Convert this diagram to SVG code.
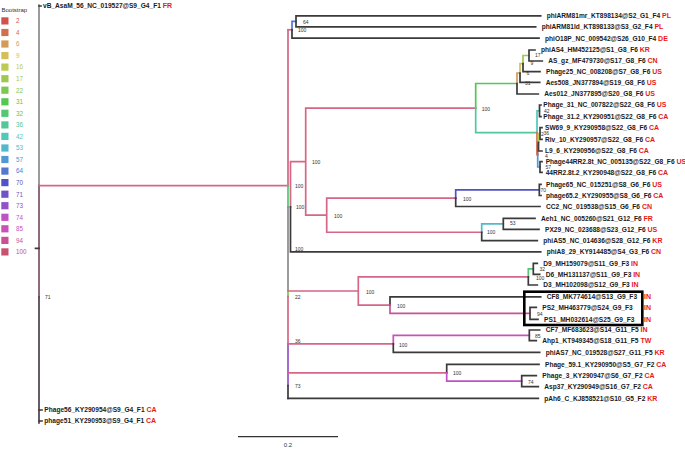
<svg xmlns="http://www.w3.org/2000/svg" width="685" height="449" viewBox="0 0 685 449">
<style>
text{font-family:"Liberation Sans",Arial,sans-serif}
.lf{font-size:6.6px;font-weight:bold;fill:#1a1a1a}
.cc{font-size:7px;font-weight:bold;fill:#e81818}
.bs{font-size:5px;fill:#333}
.lg{font-size:6.3px}
.br{fill:none;stroke-width:1.7;stroke-linecap:square}
.d{stroke:#3a3a3a}.gy{stroke:#8a8a8a}
.c2{stroke:#d4504f}.c4{stroke:#d0704c}.c6{stroke:#d49a58}.c9{stroke:#d4c058}.c16{stroke:#bccb52}.c17{stroke:#9fc852}
.c22{stroke:#7cc852}.c31{stroke:#52c852}.c32{stroke:#52c872}.c36{stroke:#52c89a}.c42{stroke:#52c8ba}.c53{stroke:#52b8cc}
.c57{stroke:#5298d2}.c64{stroke:#5278d2}.c70{stroke:#5252c8}.c71{stroke:#7252c8}.c73{stroke:#9452c8}.c74{stroke:#c052c8}
.c85{stroke:#c852b8}.c94{stroke:#c85294}.c100{stroke:#d66686}
</style>
<g id="legend">
<text x="1.5" y="12" style="font-size:6px;fill:#333">Bootstrap</text>
<g class="lg">
<rect x="1.3" y="17.3" width="7.2" height="7.2" fill="#d4504f"/><text x="16" y="23.2" fill="#d4504f">2</text>
<rect x="1.3" y="28.9" width="7.2" height="7.2" fill="#d0704c"/><text x="16" y="34.8" fill="#d0704c">4</text>
<rect x="1.3" y="40.4" width="7.2" height="7.2" fill="#d49a58"/><text x="16" y="46.3" fill="#d49a58">6</text>
<rect x="1.3" y="52.0" width="7.2" height="7.2" fill="#d4c058"/><text x="16" y="57.9" fill="#d4c058">9</text>
<rect x="1.3" y="63.5" width="7.2" height="7.2" fill="#bccb52"/><text x="16" y="69.4" fill="#bccb52">16</text>
<rect x="1.3" y="75.1" width="7.2" height="7.2" fill="#9fc852"/><text x="16" y="81.0" fill="#9fc852">17</text>
<rect x="1.3" y="86.6" width="7.2" height="7.2" fill="#7cc852"/><text x="16" y="92.5" fill="#7cc852">22</text>
<rect x="1.3" y="98.2" width="7.2" height="7.2" fill="#52c852"/><text x="16" y="104.1" fill="#52c852">31</text>
<rect x="1.3" y="109.7" width="7.2" height="7.2" fill="#52c872"/><text x="16" y="115.6" fill="#52c872">32</text>
<rect x="1.3" y="121.3" width="7.2" height="7.2" fill="#52c89a"/><text x="16" y="127.2" fill="#52c89a">36</text>
<rect x="1.3" y="132.8" width="7.2" height="7.2" fill="#52c8ba"/><text x="16" y="138.7" fill="#52c8ba">42</text>
<rect x="1.3" y="144.4" width="7.2" height="7.2" fill="#52b8cc"/><text x="16" y="150.3" fill="#52b8cc">53</text>
<rect x="1.3" y="155.9" width="7.2" height="7.2" fill="#5298d2"/><text x="16" y="161.8" fill="#5298d2">57</text>
<rect x="1.3" y="167.5" width="7.2" height="7.2" fill="#5278d2"/><text x="16" y="173.4" fill="#5278d2">64</text>
<rect x="1.3" y="179.0" width="7.2" height="7.2" fill="#5252c8"/><text x="16" y="184.9" fill="#5252c8">70</text>
<rect x="1.3" y="190.6" width="7.2" height="7.2" fill="#7252c8"/><text x="16" y="196.5" fill="#7252c8">71</text>
<rect x="1.3" y="202.1" width="7.2" height="7.2" fill="#9452c8"/><text x="16" y="208.0" fill="#9452c8">73</text>
<rect x="1.3" y="213.7" width="7.2" height="7.2" fill="#c052c8"/><text x="16" y="219.6" fill="#c052c8">74</text>
<rect x="1.3" y="225.2" width="7.2" height="7.2" fill="#c852b8"/><text x="16" y="231.1" fill="#c852b8">85</text>
<rect x="1.3" y="236.8" width="7.2" height="7.2" fill="#c85294"/><text x="16" y="242.7" fill="#c85294">94</text>
<rect x="1.3" y="248.3" width="7.2" height="7.2" fill="#c85272"/><text x="16" y="254.2" fill="#c85272">100</text>
</g>
</g>
<g id="connectors" class="br">
<path class="gy" d="M39,5 V185.7"/>
<path style="stroke:#7a5065" d="M39,185.7 V297"/>
<path style="stroke:#48404a" d="M39,297 V423"/>
<path class="d" d="M35.5,248.3 H39 M39,6 H41 M39,410 H42 M39,421 H42"/>
<path class="c100" d="M39,185.7 H288"/>
<path class="c100" d="M288,29.75 V185.7"/>
<path class="c32" d="M288,185.7 V207"/>
<path class="gy" d="M288,207 V291"/>
<path class="c22" d="M288,291 V296.7"/>
<path class="c100" d="M288,296.7 V344"/>
<path class="c73" d="M288,344 V385.7"/>
<path class="d" d="M288,385.7 V398.3"/>
<path class="c100" d="M288,29.75 H292"/>
<path class="c64" d="M292,21.3 V29.75 M292,21.3 H296"/>
<path class="d" d="M292,29.75 V38.2 M296,15.8 V26.8 M296,15.8 H540.7 M296,26.8 H535.7 M292,38.2 H539"/>
<path class="c100" d="M290.5,161.65 V206.9 M290.5,161.65 H305.7 M305.7,108.1 V215.2 M305.7,108.1 H475.7 M305.7,215.2 H326.7 M326.7,198.2 V232.25 M326.7,198.2 H455.7 M326.7,232.25 H481.7"/>
<path class="d" d="M290.5,206.9 V251.9 M290.5,251.9 H540.7"/>
<path class="c31" d="M475.7,83.5 V108.1 M475.7,83.5 H517"/>
<path class="c36" d="M475.7,108.1 V132.7 M475.7,132.7 H537"/>
<path class="c6" d="M517,73 V83.5 M517,73 H520"/>
<path class="d" d="M517,83.5 V94 M517,94 H538.3"/>
<path class="c9" d="M520,63.6 V73 M520,63.6 H523"/>
<path class="d" d="M520,73 V82.3 M520,82.3 H539.7"/>
<path class="c17" d="M523,55.5 V63.6 M523,55.5 H529"/>
<path class="d" d="M523,63.6 V71.7 M523,71.7 H540 M529,50 V61 M529,50 H535 M529,61 H542.3"/>
<path class="c42" d="M537,110.85 V132.7 M537,110.85 H539.5"/>
<path class="c4" d="M537,132.7 V154.6 M537,154.6 H537.7"/>
<path class="d" d="M539.5,105 V116.7 M539.5,105 H541 M539.5,116.7 H541"/>
<path class="c2" d="M537.7,142.25 V154.6 M537.7,142.25 H538.5"/>
<path class="c57" d="M537.7,154.6 V167 M537.7,167 H540"/>
<path class="c16" d="M538.5,133.5 V142.25 M538.5,133.5 H540"/>
<path class="d" d="M538.5,142.25 V151 M538.5,151 H542 M540,127.7 V139.3 M540,127.7 H542 M540,139.3 H542 M540,161.7 V172.3 M540,161.7 H542 M540,172.3 H542"/>
<path class="c70" d="M455.7,189.9 V198.2 M455.7,189.9 H539.3"/>
<path class="d" d="M455.7,198.2 V206.5 M455.7,206.5 H540 M539.3,184.3 V195.5 M539.3,184.3 H541 M539.3,195.5 H541"/>
<path class="c53" d="M481.7,223.8 V232.25 M481.7,223.8 H503.3"/>
<path class="d" d="M481.7,232.25 V240.7 M481.7,240.7 H537.3 M503.3,218.3 V229.3 M503.3,218.3 H535 M503.3,229.3 H539"/>
<path class="c100" d="M288,291 H358.3 M358.3,276.9 V305.1 M358.3,276.9 H528.3 M358.3,305.1 H390"/>
<path class="c32" d="M528.3,268.8 V276.9 M528.3,268.8 H533.3"/>
<path class="d" d="M528.3,276.9 V285 M528.3,285 H537.3 M533.3,263.3 V274.3 M533.3,263.3 H537.3 M533.3,274.3 H539.7"/>
<path class="d" d="M390,296.9 V305.1 M390,296.9 H540.7"/>
<path class="c94" d="M390,305.1 V313.3 M390,313.3 H530"/>
<path class="d" d="M530,307.3 V319.3 M530,307.3 H536.3 M530,319.3 H538"/>
<path class="c100" d="M288,343.9 H393.3"/>
<path class="c85" d="M393.3,335.35 V343.9 M393.3,335.35 H529.3"/>
<path class="d" d="M393.3,343.9 V352.4 M393.3,352.4 H539.7 M529.3,330 V340.7 M529.3,330 H539.7 M529.3,340.7 H536.3"/>
<path class="c100" d="M288,372.8 H446.7"/>
<path class="d" d="M446.7,364.4 V372.8 M446.7,364.4 H539"/>
<path class="c74" d="M446.7,372.8 V381.2 M446.7,381.2 H521.7"/>
<path class="d" d="M521.7,375.7 V386.7 M521.7,375.7 H536.3 M521.7,386.7 H538.3 M288,398.3 H538.3"/>
</g>
<g id="bootstrap-values" class="bs">
<text x="303" y="23.5">64</text>
<text x="298" y="31.8">100</text>
<text x="535" y="57.3">17</text>
<text x="530.5" y="65.3">9</text>
<text x="526.5" y="74.8">6</text>
<text x="525" y="85.3">31</text>
<text x="481.7" y="110.8">100</text>
<text x="544" y="112.6">42</text>
<text x="543.5" y="135.1">36</text>
<text x="541" y="135.6">2</text>
<text x="545" y="158.3">4</text>
<text x="545.5" y="168.8">57</text>
<text x="312" y="163.8">100</text>
<text x="295" y="187.5">100</text>
<text x="540.5" y="191.8">70</text>
<text x="463" y="200.8">100</text>
<text x="296" y="208.8">100</text>
<text x="334" y="217.5">100</text>
<text x="510" y="225.3">53</text>
<text x="487" y="234.3">100</text>
<text x="295" y="251.1">100</text>
<text x="539.5" y="270.8">32</text>
<text x="536" y="280">100</text>
<text x="366" y="293.5">100</text>
<text x="295" y="298.5">22</text>
<text x="397" y="307.5">100</text>
<text x="537" y="315.8">94</text>
<text x="535" y="337.8">85</text>
<text x="295" y="342.8">36</text>
<text x="399" y="346.8">100</text>
<text x="453" y="375.1">100</text>
<text x="528" y="383.5">74</text>
<text x="295" y="387.5">73</text>
<text x="45" y="299">71</text>
</g>
<g id="leaf-vB_AsaM_56"><text class="lf" x="43" y="8.4">vB_AsaM_56_NC_019527@S9_G4_F1 <tspan class="cc">FR</tspan></text></g>
<g id="leaf-Phage56"><text class="lf" x="44.3" y="412.4">Phage56_KY290954@S9_G4_F1 <tspan class="cc">CA</tspan></text></g>
<g id="leaf-phage51"><text class="lf" x="44.3" y="423.4">phage51_KY290953@S9_G4_F1 <tspan class="cc">CA</tspan></text></g>
<g id="leaf-phiARM81mr"><text class="lf" x="546.7" y="18.2">phiARM81mr_KT898134@S2_G1_F4 <tspan class="cc">PL</tspan></text></g>
<g id="leaf-phiARM81ld"><text class="lf" x="541.7" y="29.2">phiARM81ld_KT898133@S3_G2_F4 <tspan class="cc">PL</tspan></text></g>
<g id="leaf-phiO18P"><text class="lf" x="545" y="40.6">phiO18P_NC_009542@S26_G10_F4 <tspan class="cc">DE</tspan></text></g>
<g id="leaf-phiAS4"><text class="lf" x="541" y="52.4">phiAS4_HM452125@S1_G8_F6 <tspan class="cc">KR</tspan></text></g>
<g id="leaf-AS_gz"><text class="lf" x="548.3" y="63.4">AS_gz_MF479730@S17_G8_F6 <tspan class="cc">CN</tspan></text></g>
<g id="leaf-Phage25"><text class="lf" x="546" y="74.1">Phage25_NC_008208@S7_G8_F6 <tspan class="cc">US</tspan></text></g>
<g id="leaf-Aes508"><text class="lf" x="545.7" y="84.7">Aes508_JN377894@S19_G8_F6 <tspan class="cc">US</tspan></text></g>
<g id="leaf-Aes012"><text class="lf" x="544.3" y="96.4">Aes012_JN377895@S20_G8_F6 <tspan class="cc">US</tspan></text></g>
<g id="leaf-Phage_31"><text class="lf" x="543.3" y="107.4">Phage_31_NC_007822@S22_G8_F6 <tspan class="cc">US</tspan></text></g>
<g id="leaf-Phage_31.2"><text class="lf" x="543.3" y="119.1">Phage_31.2_KY290951@S22_G8_F6 <tspan class="cc">CA</tspan></text></g>
<g id="leaf-SW69_9"><text class="lf" x="545" y="130.1">SW69_9_KY290958@S22_G8_F6 <tspan class="cc">CA</tspan></text></g>
<g id="leaf-Riv_10"><text class="lf" x="545" y="141.7">Riv_10_KY290957@S22_G8_F6 <tspan class="cc">CA</tspan></text></g>
<g id="leaf-L9_6"><text class="lf" x="545" y="153.4">L9_6_KY290956@S22_G8_F6 <tspan class="cc">CA</tspan></text></g>
<g id="leaf-Phage44RR2.8t"><text class="lf" x="545.7" y="164.1">Phage44RR2.8t_NC_005135@S22_G8_F6 <tspan class="cc">US</tspan></text></g>
<g id="leaf-44RR2.8t.2"><text class="lf" x="545.7" y="174.7">44RR2.8t.2_KY290948@S22_G8_F6 <tspan class="cc">CA</tspan></text></g>
<g id="leaf-Phage65"><text class="lf" x="546" y="186.7">Phage65_NC_015251@S8_G6_F6 <tspan class="cc">US</tspan></text></g>
<g id="leaf-phage65.2"><text class="lf" x="546" y="197.9">phage65.2_KY290955@S8_G6_F6 <tspan class="cc">CA</tspan></text></g>
<g id="leaf-CC2"><text class="lf" x="546" y="208.9">CC2_NC_019538@S15_G6_F6 <tspan class="cc">CN</tspan></text></g>
<g id="leaf-Aeh1"><text class="lf" x="541" y="220.7">Aeh1_NC_005260@S21_G12_F6 <tspan class="cc">FR</tspan></text></g>
<g id="leaf-PX29"><text class="lf" x="545" y="231.7">PX29_NC_023688@S23_G12_F6 <tspan class="cc">US</tspan></text></g>
<g id="leaf-phiAS5"><text class="lf" x="543.3" y="243.1">phiAS5_NC_014636@S28_G12_F6 <tspan class="cc">KR</tspan></text></g>
<g id="leaf-phiA8_29"><text class="lf" x="546.7" y="254.3">phiA8_29_KY914485@S4_G3_F6 <tspan class="cc">CN</tspan></text></g>
<g id="leaf-D9"><text class="lf" x="543.3" y="265.7">D9_MH159079@S11_G9_F3 <tspan class="cc">IN</tspan></text></g>
<g id="leaf-D6"><text class="lf" x="545.7" y="276.7">D6_MH131137@S11_G9_F3 <tspan class="cc">IN</tspan></text></g>
<g id="leaf-D3"><text class="lf" x="543.3" y="287.4">D3_MH102098@S12_G9_F3 <tspan class="cc">IN</tspan></text></g>
<g id="leaf-CF8"><text class="lf" x="546.7" y="299.3">CF8_MK774614@S13_G9_F3<tspan class="cc" x="644">IN</tspan></text></g>
<g id="leaf-PS2"><text class="lf" x="542.3" y="309.7">PS2_MH463779@S24_G9_F3<tspan class="cc" x="644">IN</tspan></text></g>
<g id="leaf-PS1"><text class="lf" x="544" y="321.7">PS1_MH032614@S25_G9_F3<tspan class="cc" x="644">IN</tspan></text></g>
<g id="leaf-CF7"><text class="lf" x="545.7" y="332.4">CF7_MF683623@S14_G11_F5 <tspan class="cc">IN</tspan></text></g>
<g id="leaf-Ahp1"><text class="lf" x="542.3" y="343.1">Ahp1_KT949345@S18_G11_F5 <tspan class="cc">TW</tspan></text></g>
<g id="leaf-phiAS7"><text class="lf" x="545.7" y="354.8">phiAS7_NC_019528@S27_G11_F5 <tspan class="cc">KR</tspan></text></g>
<g id="leaf-Phage_59.1"><text class="lf" x="545" y="366.8">Phage_59.1_KY290950@S5_G7_F2 <tspan class="cc">CA</tspan></text></g>
<g id="leaf-Phage_3"><text class="lf" x="542.3" y="378.1">Phage_3_KY290947@S6_G7_F2 <tspan class="cc">CA</tspan></text></g>
<g id="leaf-Asp37"><text class="lf" x="544.3" y="389.1">Asp37_KY290949@S16_G7_F2 <tspan class="cc">CA</tspan></text></g>
<g id="leaf-pAh6_C"><text class="lf" x="544.3" y="400.7">pAh6_C_KJ858521@S10_G5_F2 <tspan class="cc">KR</tspan></text></g>
<g id="highlight-box"><rect x="524.3" y="291.7" width="118" height="33.3" fill="none" stroke="#000" stroke-width="2.6"/></g>
<g id="scale-bar">
<path d="M238,436.7 H338" stroke="#333" stroke-width="1.2" fill="none"/>
<text x="288" y="447.2" text-anchor="middle" style="font-size:6px;fill:#333">0.2</text>
</g>
</svg>
